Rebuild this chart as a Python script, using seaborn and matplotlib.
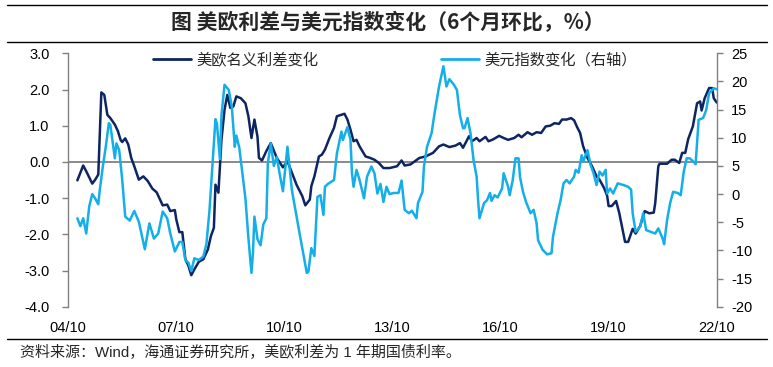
import matplotlib
matplotlib.use('Agg')
import matplotlib.pyplot as plt
import numpy as np
import pandas as pd
import seaborn as sns
from matplotlib.lines import Line2D

# ---------------- data ----------------
TITLE = '图 美欧利差与美元指数变化（6个月环比，%）'
SOURCE = '资料来源：Wind，海通证券研究所，美欧利差为 1 年期国债利率。'
SERIES1 = '美欧名义利差变化'
SERIES2 = '美元指数变化（右轴）'

spread_dates = [
    '2005-01-01', '2005-03-01', '2005-04-01', '2005-06-01', '2005-07-01', '2005-08-01',
    '2005-09-01', '2005-10-01', '2005-11-01', '2005-12-01', '2006-01-16', '2006-02-16',
    '2006-03-16', '2006-04-01', '2006-05-01', '2006-06-01', '2006-07-01', '2006-08-01',
    '2006-09-16', '2006-11-01', '2006-12-16', '2007-02-01', '2007-03-16', '2007-05-16',
    '2007-07-01', '2007-08-01', '2007-09-16', '2007-10-01', '2007-11-01', '2007-12-01',
    '2008-01-01', '2008-02-01', '2008-03-01', '2008-04-01', '2008-05-16', '2008-07-01',
    '2008-08-16', '2008-09-16', '2008-10-16', '2008-11-01', '2008-12-01', '2009-01-01',
    '2009-02-01', '2009-03-01', '2009-04-01', '2009-05-01', '2009-06-01', '2009-07-16',
    '2009-09-01', '2009-10-01', '2009-11-01', '2009-12-01', '2010-01-01', '2010-01-16',
    '2010-02-16', '2010-04-01', '2010-05-16', '2010-07-16', '2010-09-16', '2010-11-01',
    '2010-12-16', '2011-02-01', '2011-04-01', '2011-05-01', '2011-06-16', '2011-07-01',
    '2011-08-01', '2011-09-16', '2011-10-16', '2011-11-16', '2012-01-01', '2012-02-16',
    '2012-03-16', '2012-05-01', '2012-06-01', '2012-07-01', '2012-08-01', '2012-09-01',
    '2012-10-01', '2012-11-01', '2013-01-01', '2013-02-16', '2013-04-01', '2013-05-16',
    '2013-07-01', '2013-09-01', '2013-11-16', '2014-01-01', '2014-02-01', '2014-04-01',
    '2014-05-16', '2014-07-01', '2014-09-01', '2014-11-16', '2015-01-16', '2015-03-01',
    '2015-05-01', '2015-07-01', '2015-08-16', '2015-09-16', '2015-11-16', '2015-12-16',
    '2016-02-01', '2016-03-01', '2016-05-01', '2016-06-01', '2016-07-16', '2016-09-16',
    '2016-11-01', '2016-12-16', '2017-02-16', '2017-04-01', '2017-05-01', '2017-07-01',
    '2017-08-16', '2017-10-01', '2017-11-16', '2018-01-01', '2018-02-16', '2018-04-01',
    '2018-05-16', '2018-06-16', '2018-08-01', '2018-09-16', '2018-10-16', '2018-11-16',
    '2018-12-16', '2019-01-16', '2019-03-01', '2019-04-16', '2019-06-01', '2019-07-01',
    '2019-08-16', '2019-09-16', '2019-10-01', '2019-11-01', '2019-12-16', '2020-01-16',
    '2020-02-16', '2020-03-16', '2020-04-16', '2020-06-01', '2020-07-01', '2020-08-16',
    '2020-10-01', '2020-11-16', '2021-01-01', '2021-01-16', '2021-02-16', '2021-03-01',
    '2021-05-16', '2021-07-01', '2021-08-01', '2021-09-16', '2021-10-16', '2021-11-16',
    '2021-12-16', '2022-02-01', '2022-03-16', '2022-04-16', '2022-05-01', '2022-06-01',
    '2022-07-16', '2022-08-16', '2022-09-01', '2022-10-01',
]
spread_values = [
    -0.51, -0.10, -0.26, -0.60, -0.49, -0.35,
    1.92, 1.85, 1.30, 1.21, 1.03, 0.85,
    0.60, 0.55, 0.65, 0.48, 0.11, -0.12,
    -0.49, -0.40, -0.53, -0.74, -0.84, -1.20,
    -1.18, -1.36, -1.33, -1.59, -1.94, -1.94,
    -2.69, -2.87, -3.13, -2.97, -2.76, -2.69,
    -2.42, -2.05, -1.82, -0.63, -0.85, 0.61,
    1.44, 1.85, 1.49, 1.53, 1.81, 1.76,
    1.62, 1.26, 0.66, 1.17, 0.70, 0.11,
    0.04, 0.30, 0.52, 0.11, -0.15, 0.02,
    -0.30, -0.63, -0.95, -1.20, -1.04, -0.67,
    -0.40, 0.15, 0.20, 0.34, 0.66, 0.94,
    1.26, 1.30, 1.33, 1.17, 0.89, 0.57,
    0.61, 0.43, 0.15, 0.11, 0.06, -0.03,
    -0.17, -0.17, -0.12, 0.04, -0.10, -0.07,
    0.02, 0.11, 0.15, 0.25, 0.43, 0.48,
    0.41, 0.45, 0.52, 0.39, 0.71, 0.57,
    0.66, 0.57, 0.69, 0.57, 0.62, 0.72,
    0.66, 0.61, 0.66, 0.75, 0.68, 0.82,
    0.75, 0.82, 0.80, 0.98, 1.00, 1.07,
    1.05, 1.17, 1.17, 1.21, 1.15, 0.96,
    0.80, 0.43, 0.11, -0.12, -0.40, -0.49,
    -0.72, -0.93, -1.22, -1.22, -1.08, -1.40,
    -1.82, -2.21, -2.21, -1.85, -1.98, -1.77,
    -1.36, -1.42, -1.40, -1.13, -0.12, -0.05,
    -0.05, 0.06, 0.06, -0.03, 0.25, 0.25,
    0.63, 0.98, 1.62, 1.67, 1.42, 1.76,
    2.04, 2.04, 1.76, 1.64,
]

dxy_dates = [
    '2005-01-01', '2005-02-01', '2005-03-01', '2005-04-01', '2005-05-01', '2005-06-01',
    '2005-07-01', '2005-08-01', '2005-08-16', '2005-09-16', '2005-10-16', '2005-11-16',
    '2005-12-01', '2006-01-16', '2006-02-01', '2006-03-01', '2006-04-01', '2006-05-01',
    '2006-06-16', '2006-08-01', '2006-09-16', '2006-11-16', '2007-01-01', '2007-02-16',
    '2007-04-01', '2007-05-16', '2007-07-01', '2007-08-01', '2007-09-16', '2007-11-01',
    '2007-12-01', '2008-01-01', '2008-02-01', '2008-03-01', '2008-04-01', '2008-05-16',
    '2008-07-01', '2008-08-01', '2008-09-01', '2008-10-01', '2008-11-01', '2008-11-16',
    '2008-12-16', '2009-01-01', '2009-02-01', '2009-03-16', '2009-04-16', '2009-05-16',
    '2009-06-01', '2009-07-01', '2009-09-01', '2009-10-01', '2009-11-01', '2009-11-16',
    '2009-12-01', '2010-01-01', '2010-02-01', '2010-03-01', '2010-04-01', '2010-04-16',
    '2010-05-16', '2010-06-16', '2010-07-16', '2010-08-16', '2010-09-16', '2010-11-01',
    '2010-12-16', '2011-02-01', '2011-03-01', '2011-04-16', '2011-05-16', '2011-06-01',
    '2011-07-01', '2011-08-01', '2011-09-01', '2011-10-01', '2011-11-01', '2011-11-16',
    '2011-12-16', '2012-02-16', '2012-03-16', '2012-05-01', '2012-05-16', '2012-07-01',
    '2012-08-01', '2012-08-16', '2012-09-01', '2012-10-01', '2012-11-01', '2012-12-16',
    '2013-01-16', '2013-03-01', '2013-04-01', '2013-05-01', '2013-06-01', '2013-07-01',
    '2013-08-01', '2013-09-01', '2013-10-16', '2013-12-01', '2014-01-01', '2014-02-01',
    '2014-03-16', '2014-04-16', '2014-06-01', '2014-06-16', '2014-08-01', '2014-08-16',
    '2014-09-16', '2014-11-01', '2014-12-01', '2015-01-16', '2015-03-01', '2015-04-01',
    '2015-05-01', '2015-06-16', '2015-07-16', '2015-08-16', '2015-09-16', '2015-10-01',
    '2015-11-01', '2015-12-01', '2016-01-01', '2016-02-01', '2016-02-16', '2016-03-01',
    '2016-04-16', '2016-05-16', '2016-06-16', '2016-07-01', '2016-08-01', '2016-09-01',
    '2016-10-16', '2016-11-01', '2016-12-16', '2017-01-01', '2017-02-01', '2017-03-01',
    '2017-04-01', '2017-04-16', '2017-05-16', '2017-06-16', '2017-08-01', '2017-09-01',
    '2017-10-01', '2017-10-16', '2017-12-01', '2018-01-16', '2018-03-01', '2018-03-16',
    '2018-05-01', '2018-06-01', '2018-07-01', '2018-08-01', '2018-09-01', '2018-10-16',
    '2018-11-01', '2018-12-01', '2019-01-01', '2019-01-16', '2019-03-01', '2019-04-01',
    '2019-05-01', '2019-06-01', '2019-07-01', '2019-08-01', '2019-09-01', '2019-09-16',
    '2019-10-16', '2019-11-16', '2020-01-01', '2020-03-01', '2020-04-16', '2020-05-16',
    '2020-06-01', '2020-07-01', '2020-08-16', '2020-09-16', '2020-10-16', '2020-12-01',
    '2021-01-16', '2021-02-16', '2021-04-01', '2021-04-16', '2021-05-16', '2021-06-16',
    '2021-07-16', '2021-09-01', '2021-10-01', '2021-11-01', '2021-12-01', '2022-01-01',
    '2022-02-16', '2022-03-01', '2022-04-01', '2022-05-16', '2022-06-16', '2022-07-16',
    '2022-09-01', '2022-10-01',
]
dxy_values = [
    -4.3, -5.7, -4.3, -7.0, -2.2, 0.0,
    -0.8, -1.8, 0.7, 4.9, 8.4, 12.6,
    12.3, 6.35, 9.0, 7.8, 2.5, -4.0,
    -4.7, -3.0, -4.9, -9.8, -5.2, -7.9,
    -7.0, -3.1, -4.3, -7.0, -10.2, -8.5,
    -8.5, -11.7, -12.2, -13.7, -11.4, -11.7,
    -11.1, -8.9, -3.0, 4.9, 13.3, 12.5,
    6.2, 14.0, 19.4, 18.5, 15.5, 8.4,
    10.4, 8.2, -0.8, -7.8, -14.0, -10.5,
    -4.0, -8.0, -9.1, -5.4, -4.3, 5.5,
    9.0, 5.0, 6.6, 3.4, 0.5, 8.4,
    0.7, -4.0, -6.7, -11.1, -14.0, -13.8,
    -9.6, -11.0, -0.5, -0.2, -3.7, 1.3,
    1.8, 2.5, 7.2, 11.1, 9.6, 11.9,
    9.6, 3.7, 1.3, 4.3, 2.5, -0.75,
    3.1, 4.9, 3.7, 0.1, 1.8, -1.4,
    1.3, 0.0, 0.2, 0.2, 2.4, -2.8,
    -3.4, -2.95, -4.3, -1.6, 0.4, 4.9,
    8.4, 10.8, 14.3, 19.1, 22.7, 19.1,
    20.4, 19.4, 18.5, 14.0, 11.7, 11.7,
    13.5, 10.8, 6.0, 3.1, -1.1, -4.3,
    -1.6, -1.1, 0.2, -1.2, -0.2, -0.6,
    1.0, 3.7, 1.3, -0.2, 2.5, 6.35,
    6.35, 3.0, 0.4, -1.4, -3.4, -2.8,
    -5.2, -8.2, -9.9, -10.7, -10.5, -7.6,
    -3.4, -1.1, 1.9, 2.5, 1.9, 3.1,
    4.3, 3.8, 6.9, 5.75, 7.8, 5.2,
    3.7, 1.6, 4.0, 3.3, 4.3, 0.1,
    1.0, 0.1, 1.9, 1.6, 1.3, 0.8,
    -3.4, -6.7, -5.8, -3.4, -6.4, -6.7,
    -7.0, -6.1, -7.9, -8.9, -4.6, -1.6,
    0.4, 0.2, -0.2, 4.0, 6.35, 6.35,
    5.6, 5.3, 13.2, 13.5, 14.9, 17.9,
    18.8, 18.6,
]

tick_dates = ['2004-10-01', '2007-10-01', '2010-10-01', '2013-10-01',
              '2016-10-01', '2019-10-01', '2022-10-01']
tick_labels = ['04/10', '07/10', '10/10', '13/10', '16/10', '19/10', '22/10']
left_ticks = [-4.0, -3.0, -2.0, -1.0, 0.0, 1.0, 2.0, 3.0]
right_ticks = [-20, -15, -10, -5, 0, 5, 10, 15, 20, 25]

NAVY = '#0d2562'
SKY = '#14aee8'
GREY = '#808080'

# ---------------- style ----------------
sns.set_theme(style='white')
plt.rcParams['font.family'] = ['Liberation Sans', 'Noto Sans CJK SC', 'DejaVu Sans']
plt.rcParams['axes.unicode_minus'] = False

W, H = 773, 367
fig = plt.figure(figsize=(W / 100, H / 100), dpi=100, facecolor='white')
L, R, T, B = 68.3, 716.7, 53.3, 306.7
ax = fig.add_axes([L / W, 1 - B / H, (R - L) / W, (B - T) / H])
ax2 = ax.twinx()

spread = pd.DataFrame({'date': pd.to_datetime(spread_dates), 'value': spread_values})
dxy = pd.DataFrame({'date': pd.to_datetime(dxy_dates), 'value': dxy_values})

ax.axhline(0, color=GREY, lw=1.3, zorder=1)
sns.lineplot(data=spread, x='date', y='value', ax=ax, color=NAVY, lw=1.8,
             legend=False, zorder=3, solid_joinstyle='round')
sns.lineplot(data=dxy, x='date', y='value', ax=ax2, color=SKY, lw=1.8,
             legend=False, zorder=3, solid_joinstyle='round')

ax.set_xlim(pd.Timestamp('2004-10-01'), pd.Timestamp('2022-10-01'))
ax.set_ylim(-4, 3)
ax2.set_ylim(-20, 25)

ax.set_xticks(pd.to_datetime(tick_dates))
ax.set_xticklabels(tick_labels)
ax.set_yticks(left_ticks)
ax.set_yticklabels([f'{v:.1f}' for v in left_ticks])
ax2.set_yticks(right_ticks)
ax2.set_yticklabels([str(v) for v in right_ticks])

ax.tick_params(axis='x', length=0, pad=10.5, labelsize=10.5, labelcolor='black')
ax.tick_params(axis='y', left=True, direction='out', length=4, width=1, color=GREY,
               pad=9.5, labelsize=10.5, labelcolor='black')
ax2.tick_params(axis='y', right=True, direction='out', length=4, width=1, color=GREY,
                pad=6.5, labelsize=10.5, labelcolor='black')

for s in ['top', 'bottom', 'right']:
    ax.spines[s].set_visible(False)
for s in ['top', 'bottom', 'left']:
    ax2.spines[s].set_visible(False)
ax.spines['left'].set_color(GREY)
ax.spines['left'].set_linewidth(1.0)
ax2.spines['right'].set_color(GREY)
ax2.spines['right'].set_linewidth(1.0)
for a in (ax, ax2):
    a.set_xlabel('')
    a.set_ylabel('')
ax.patch.set_alpha(0)

# ---------------- legend ----------------
leg_prop = {'family': ['Noto Sans CJK SC', 'DejaVu Sans'], 'size': 11}
h1 = Line2D([], [], color=NAVY, lw=2)
h2 = Line2D([], [], color=SKY, lw=2)
fig.legend([h1], [SERIES1], loc='center left', bbox_to_anchor=(153 / W, 1 - 60 / H),
           frameon=False, handlelength=2.5, handletextpad=0.35, borderpad=0,
           borderaxespad=0, prop=leg_prop)
fig.legend([h2], [SERIES2], loc='center left', bbox_to_anchor=(440.5 / W, 1 - 60 / H),
           frameon=False, handlelength=2.5, handletextpad=0.35, borderpad=0,
           borderaxespad=0, prop=leg_prop)

# ---------------- title, rules, source ----------------
fig.text(388 / W, 1 - 22 / H, TITLE, ha='center', va='center', fontsize=15,
         fontweight='bold', family=['Noto Sans CJK SC', 'DejaVu Sans'])
for yy in (4.5, 42, 339):
    fig.add_artist(Line2D([7 / W, 767 / W], [1 - yy / H, 1 - yy / H],
                          transform=fig.transFigure, color='black', lw=1.0))
fig.text(20 / W, 1 - 352 / H, SOURCE, ha='left', va='center', fontsize=10.8,
         family=['Liberation Sans', 'Noto Sans CJK SC', 'DejaVu Sans'])

fig.savefig('out.png', dpi=100, facecolor='white')
